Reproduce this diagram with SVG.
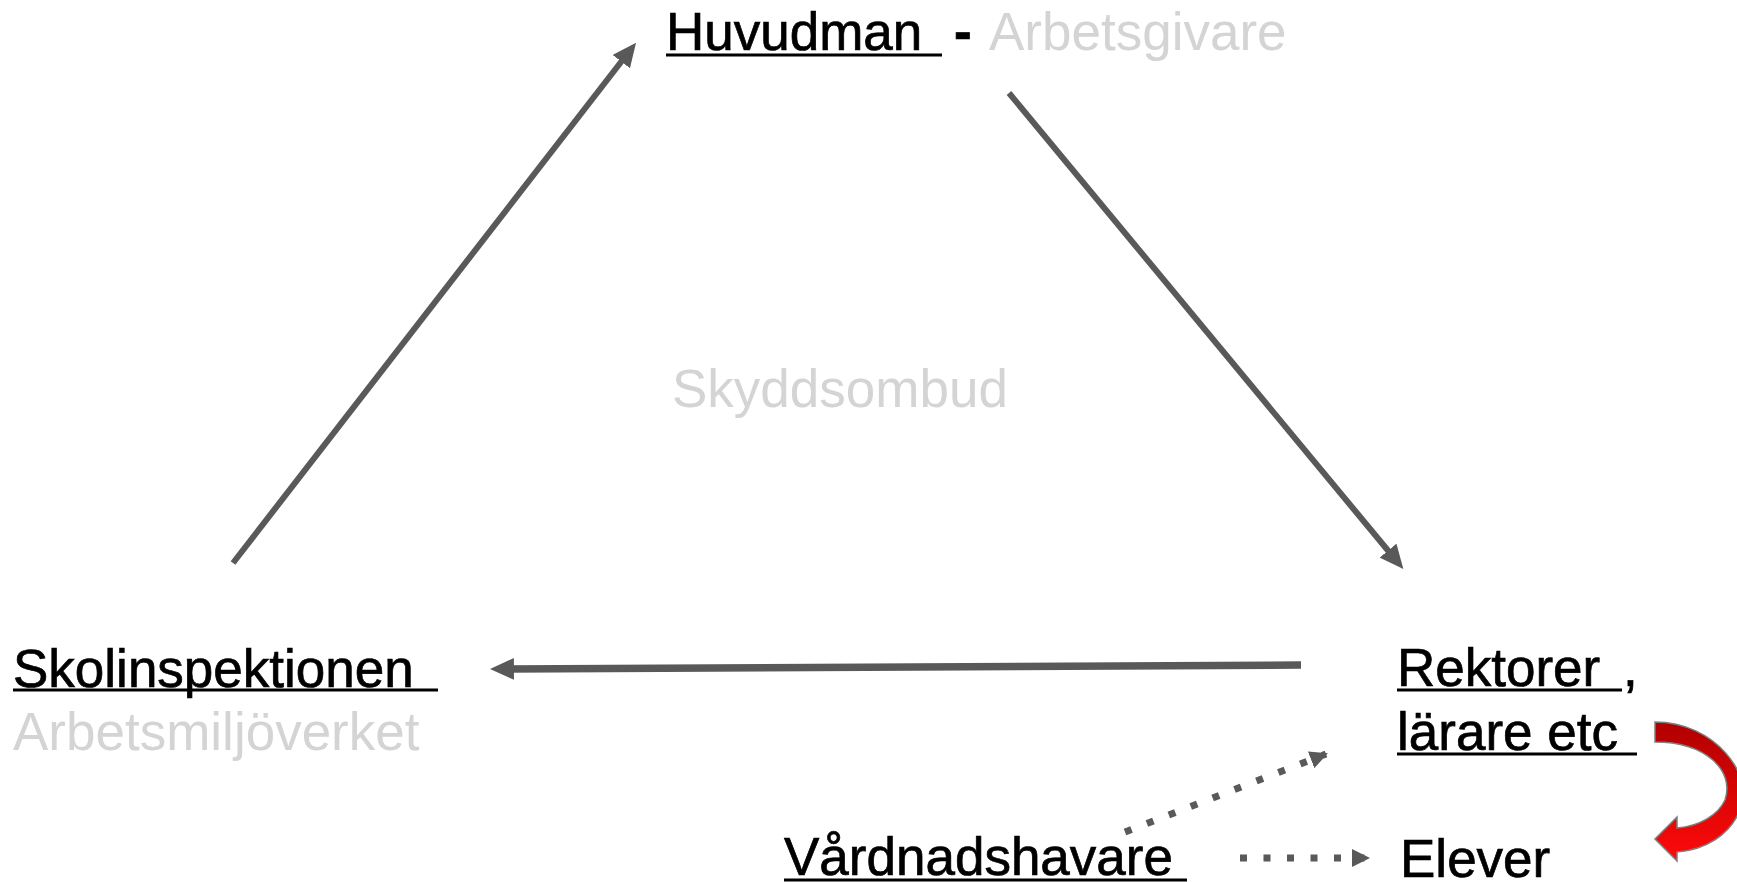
<svg xmlns="http://www.w3.org/2000/svg" width="1737" height="882" viewBox="0 0 1737 882">
<style>
.t{font-family:"Liberation Sans",Arial,sans-serif;font-size:53px;fill:#000;stroke:#000;stroke-width:0.7}
.g{fill:#d4d4d4;stroke:none}
.ul{stroke:#000;stroke-width:2.8}
.ln{stroke:#595959;fill:none}
</style>
<defs>
<marker id="ah" markerUnits="userSpaceOnUse" markerWidth="24" markerHeight="22" viewBox="0 0 22 20" refX="10" refY="10" orient="auto">
<path d="M0,0 L22,10 L0,20 z" fill="#595959"/>
</marker>
<marker id="ahs" markerUnits="userSpaceOnUse" markerWidth="18" markerHeight="18" viewBox="0 0 18 18" refX="16" refY="9" orient="auto">
<path d="M0,0 L18,9 L0,18 z" fill="#595959"/>
</marker>
<linearGradient id="red" x1="0" y1="0" x2="0" y2="1">
<stop offset="0" stop-color="#b00000"/>
<stop offset="1" stop-color="#ff0a0a"/>
</linearGradient>
</defs>
<rect width="1737" height="882" fill="#fff"/>
<g id="connectors">
<line class="ln" x1="233" y1="563" x2="628" y2="53" stroke-width="6" marker-end="url(#ah)"/>
<line class="ln" x1="1009" y1="93" x2="1395" y2="559" stroke-width="6" marker-end="url(#ah)"/>
<line class="ln" x1="1301" y1="665" x2="503" y2="669" stroke-width="7.5" marker-end="url(#ah)"/>
<line class="ln" x1="1125" y1="832" x2="1326" y2="754" stroke-width="7" stroke-dasharray="7 16.5" marker-end="url(#ahs)"/>
<line class="ln" x1="1240" y1="858" x2="1368" y2="858" stroke-width="7" stroke-dasharray="7 16.5" marker-end="url(#ahs)"/>
<path id="red-arrow" d="M1655,722 C1715,722 1755,775 1740,810 C1730,835 1705,850 1677,852 L1677,861 L1655,839 L1677,817 L1677,828 C1700,826 1718,815 1725,800 C1735,770 1705,742 1655,742 Z" fill="url(#red)" stroke="#7f7f7f" stroke-width="1.5"/>
</g>
<g id="huvudman">
<text class="t" x="666" y="50">Huvudman</text>
<line class="ul" x1="666" y1="55" x2="942" y2="55"/>
<text class="t" x="954" y="50" font-weight="bold">-</text>
<text class="t g" x="989" y="50">Arbetsgivare</text>
</g>
<g id="skyddsombud">
<text class="t g" x="672" y="407">Skyddsombud</text>
</g>
<g id="skolinspektionen">
<text class="t" x="13" y="687">Skolinspektionen</text>
<line class="ul" x1="13" y1="690" x2="438" y2="690"/>
<text class="t g" x="13" y="750">Arbetsmiljöverket</text>
</g>
<g id="rektorer">
<text class="t" x="1397" y="686">Rektorer</text>
<line class="ul" x1="1397" y1="690" x2="1622" y2="690"/>
<text class="t" x="1623" y="686">,</text>
<text class="t" x="1397" y="750">lärare etc</text>
<line class="ul" x1="1397" y1="754" x2="1637" y2="754"/>
</g>
<g id="vardnadshavare">
<text class="t" x="784" y="875">Vårdnadshavare</text>
<line class="ul" x1="784" y1="880" x2="1187" y2="880"/>
</g>
<g id="elever">
<text class="t" x="1400" y="877">Elever</text>
</g>
</svg>
